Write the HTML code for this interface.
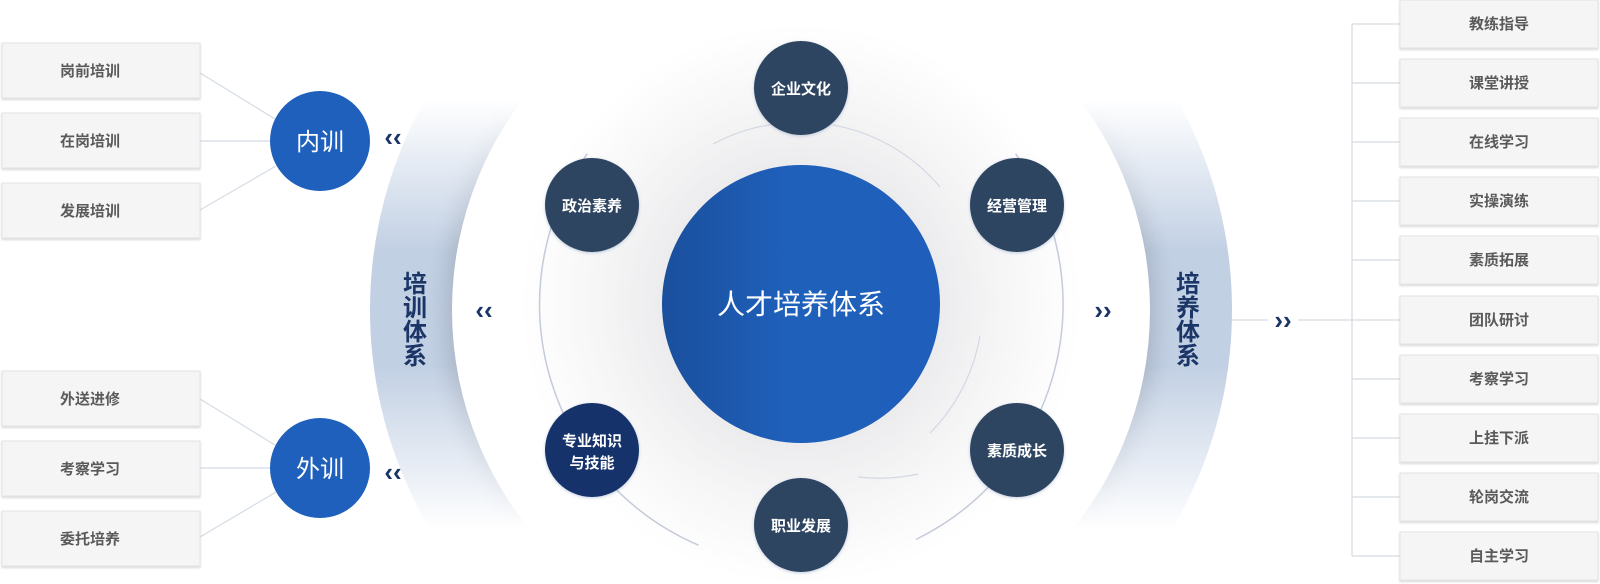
<!DOCTYPE html>
<html><head><meta charset="utf-8"><style>
html,body{margin:0;padding:0;background:#fff;overflow:hidden;}
body{width:1600px;height:584px;overflow:hidden;}
svg{display:block;}
svg text{font-family:"Liberation Sans","Noto Sans CJK SC",sans-serif;}
</style></head><body>
<svg width="1600" height="584" viewBox="0 0 1600 584" xmlns="http://www.w3.org/2000/svg">
<defs>
<linearGradient id="band" x1="0" y1="100" x2="0" y2="530" gradientUnits="userSpaceOnUse">
<stop offset="0" stop-color="#c2d0e4" stop-opacity="0"/>
<stop offset="0.35" stop-color="#c2d0e4" stop-opacity="1"/>
<stop offset="0.62" stop-color="#c2d0e4" stop-opacity="1"/>
<stop offset="1" stop-color="#c2d0e4" stop-opacity="0"/>
</linearGradient>
<linearGradient id="mg" x1="0" y1="100" x2="0" y2="530" gradientUnits="userSpaceOnUse">
<stop offset="0" stop-color="#fff" stop-opacity="0"/>
<stop offset="0.35" stop-color="#fff" stop-opacity="1"/>
<stop offset="0.62" stop-color="#fff" stop-opacity="1"/>
<stop offset="1" stop-color="#fff" stop-opacity="0"/>
</linearGradient>
<mask id="vm" maskUnits="userSpaceOnUse" x="0" y="0" width="1600" height="584"><rect x="0" y="0" width="1600" height="584" fill="url(#mg)"/></mask>
<radialGradient id="glow" cx="801" cy="304" r="330" gradientUnits="userSpaceOnUse">
<stop offset="0.4" stop-color="#ebebed"/>
<stop offset="0.62" stop-color="#f6f6f7"/>
<stop offset="0.85" stop-color="#fff"/>
<stop offset="1" stop-color="#fff" stop-opacity="0"/>
</radialGradient>
<linearGradient id="main" x1="0" y1="0" x2="1" y2="0">
<stop offset="0" stop-color="#1a4f9c"/>
<stop offset="0.45" stop-color="#1f60bb"/>
<stop offset="1" stop-color="#1f5fbb"/>
</linearGradient>
<filter id="sh" x="-20%" y="-20%" width="140%" height="140%"><feGaussianBlur stdDeviation="10"/></filter>
<filter id="bs" x="-5%" y="-10%" width="110%" height="130%"><feDropShadow dx="0" dy="1.5" stdDeviation="1" flood-color="#000" flood-opacity="0.15"/></filter>
<filter id="cs" x="-20%" y="-20%" width="140%" height="140%"><feDropShadow dx="0" dy="1" stdDeviation="1.5" flood-color="#6a85b0" flood-opacity="0.4"/></filter>
</defs>

<circle cx="801" cy="310" r="431" fill="url(#band)"/>
<g mask="url(#vm)">
<circle cx="801" cy="310" r="356" fill="#000" opacity="0.12" filter="url(#sh)"/>
</g>
<circle cx="801" cy="310" r="349" fill="#fff"/>
<circle cx="801" cy="304" r="330" fill="url(#glow)"/>

<g fill="#1a3566" font-size="24" font-weight="bold" text-anchor="middle">
<text x="415" y="292">培</text><text x="415" y="316">训</text><text x="415" y="340">体</text><text x="415" y="364">系</text>
<text x="1188" y="292">培</text><text x="1188" y="316">养</text><text x="1188" y="340">体</text><text x="1188" y="364">系</text>
</g>

<g fill="none" stroke="#c4cbd8" stroke-width="1.5">
<path d="M 698.6 545.2 A 262 262 0 0 1 587.2 153.7"/>
<path d="M 1015.6 153.7 A 262 262 0 0 1 915.9 539.5"/>
</g>
<g fill="none" stroke="#d3d8e2" stroke-width="1.2">
<path d="M 713 144 A 182 182 0 0 1 785 123"/>
<path d="M 833 125 A 182 182 0 0 1 940 187"/>
<path d="M 980 336 A 182 182 0 0 1 930 433"/>
<path d="M 918 474 A 182 182 0 0 1 858 477"/>
</g>

<circle cx="801" cy="304" r="139" fill="url(#main)"/>
<text x="801" y="314" fill="#fff" font-size="28" text-anchor="middle">人才培养体系</text>

<g filter="url(#cs)">
<circle cx="801" cy="88" r="47" fill="#2f4462"/>
<circle cx="592" cy="205" r="47" fill="#2f4462"/>
<circle cx="1017" cy="205" r="47" fill="#2f4462"/>
<circle cx="592" cy="450" r="47" fill="#13336a"/>
<circle cx="1017" cy="450" r="47" fill="#2f4462"/>
<circle cx="801" cy="525" r="47" fill="#2f4462"/>
</g>
<g fill="#fff" font-size="15" font-weight="bold" text-anchor="middle">
<text x="801" y="94">企业文化</text>
<text x="592" y="211">政治素养</text>
<text x="1017" y="211">经营管理</text>
<text x="592" y="446">专业知识</text>
<text x="592" y="468">与技能</text>
<text x="1017" y="456">素质成长</text>
<text x="801" y="531">职业发展</text>
</g>

<g fill="#1a3566" font-size="26" font-weight="bold" text-anchor="middle">
<text x="393" y="146">‹‹</text>
<text x="484" y="319">‹‹</text>
<text x="393" y="481">‹‹</text>
<text x="1103" y="319">››</text>
<text x="1283" y="329">››</text>
</g>

<g stroke="#d5dbe6" stroke-width="1.2">
<line x1="200" y1="73" x2="275" y2="119"/>
<line x1="200" y1="141" x2="270" y2="141"/>
<line x1="200" y1="210" x2="276" y2="166"/>
<line x1="200" y1="399" x2="275" y2="445"/>
<line x1="200" y1="468" x2="270" y2="468"/>
<line x1="200" y1="537" x2="276" y2="492"/>
</g>
<circle cx="320" cy="141" r="50" fill="#1f60bc"/>
<circle cx="320" cy="468" r="50" fill="#1f60bc"/>
<g fill="#fff" font-size="24" text-anchor="middle">
<text x="320" y="150">内训</text>
<text x="320" y="477">外训</text>
</g>

<g fill="#f5f5f5" stroke="#e4e4e4" stroke-width="1" filter="url(#bs)">
<rect x="2" y="43" width="198" height="55"/>
<rect x="2" y="113" width="198" height="55"/>
<rect x="2" y="183" width="198" height="55"/>
<rect x="2" y="371" width="198" height="55"/>
<rect x="2" y="441" width="198" height="55"/>
<rect x="2" y="511" width="198" height="55"/>
</g>
<g fill="#5a5a5a" font-size="15" font-weight="bold" text-anchor="middle">
<text x="90" y="76">岗前培训</text>
<text x="90" y="146">在岗培训</text>
<text x="90" y="216">发展培训</text>
<text x="90" y="404">外送进修</text>
<text x="90" y="474">考察学习</text>
<text x="90" y="544">委托培养</text>
</g>

<g stroke="#d5d9e0" stroke-width="1.2" fill="none">
<line x1="1232" y1="320" x2="1268" y2="320"/>
<line x1="1298" y1="320" x2="1400" y2="320"/>
<line x1="1352" y1="24" x2="1352" y2="556"/>
<line x1="1352" y1="24" x2="1400" y2="24"/>
<line x1="1352" y1="83" x2="1400" y2="83"/>
<line x1="1352" y1="142" x2="1400" y2="142"/>
<line x1="1352" y1="201" x2="1400" y2="201"/>
<line x1="1352" y1="260" x2="1400" y2="260"/>
<line x1="1352" y1="379" x2="1400" y2="379"/>
<line x1="1352" y1="438" x2="1400" y2="438"/>
<line x1="1352" y1="497" x2="1400" y2="497"/>
<line x1="1352" y1="556" x2="1400" y2="556"/>
</g>
<g fill="#f5f5f5" stroke="#e4e4e4" stroke-width="1" filter="url(#bs)">
<rect x="1400" y="0" width="198" height="48"/>
<rect x="1400" y="59" width="198" height="48"/>
<rect x="1400" y="118" width="198" height="48"/>
<rect x="1400" y="177" width="198" height="48"/>
<rect x="1400" y="236" width="198" height="48"/>
<rect x="1400" y="296" width="198" height="48"/>
<rect x="1400" y="355" width="198" height="48"/>
<rect x="1400" y="414" width="198" height="48"/>
<rect x="1400" y="473" width="198" height="48"/>
<rect x="1400" y="532" width="198" height="48"/>
</g>
<g fill="#5a5a5a" font-size="15" font-weight="bold" text-anchor="middle">
<text x="1499" y="29">教练指导</text>
<text x="1499" y="88">课堂讲授</text>
<text x="1499" y="147">在线学习</text>
<text x="1499" y="206">实操演练</text>
<text x="1499" y="265">素质拓展</text>
<text x="1499" y="325">团队研讨</text>
<text x="1499" y="384">考察学习</text>
<text x="1499" y="443">上挂下派</text>
<text x="1499" y="502">轮岗交流</text>
<text x="1499" y="561">自主学习</text>
</g>
</svg>
</body></html>
